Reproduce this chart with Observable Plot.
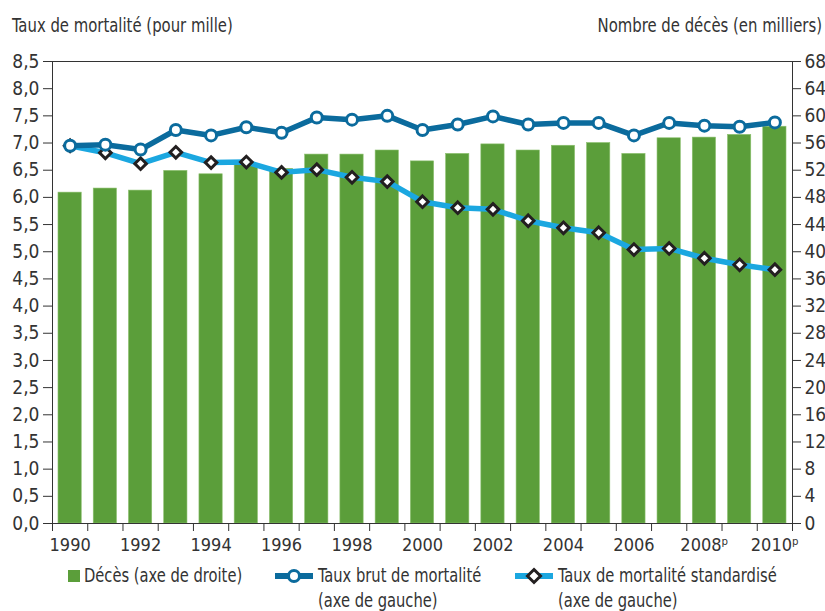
<!DOCTYPE html>
<html>
<head>
<meta charset="utf-8">
<script src="https://cdn.jsdelivr.net/npm/d3@7"></script>
<script src="https://cdn.jsdelivr.net/npm/@observablehq/plot@0.6"></script>
<style>
  html, body { margin: 0; padding: 0; background: #fff; }
  body { width: 825px; height: 611px; position: relative; overflow: hidden;
         font-family: "Liberation Sans Narrow", "DejaVu Sans Condensed", "Roboto Condensed", sans-serif; color: #333; }
  .hdr { position: absolute; top: 14px; font-size: 19px; color: #333; white-space: nowrap; }
  #chart { position: absolute; top: 40px; left: 0; }
  .leg { position: absolute; font-size: 19px; line-height: 25px; color: #333; white-space: nowrap; }
  .leg svg { position: absolute; }
  .sq { display: inline-block; transform: scaleX(0.86); transform-origin: left center; }
</style>
</head>
<body>
<div class="hdr" style="left:12px; transform: scaleX(0.87); transform-origin: left center;">Taux de mortalité (pour mille)</div>
<div class="hdr" style="right:3px; transform: scaleX(0.87); transform-origin: right center;">Nombre de décès (en milliers)</div>
<div id="chart"></div>
<div class="leg" style="left:68px; top:563px;"><svg width="14" height="14" style="left:0;top:6px"><rect x="0" y="1" width="12" height="12" fill="#5b9e3a"/></svg><div class="sq" style="margin-left:16px">Décès (axe de droite)</div></div>
<div class="leg" style="left:275px; top:563px;"><svg width="40" height="20" style="left:0;top:3px"><line x1="0" y1="10" x2="38" y2="10" stroke="#0b6b9d" stroke-width="6"/><circle cx="19" cy="10" r="5.5" fill="#fff" stroke="#0b6b9d" stroke-width="3"/></svg><div class="sq" style="margin-left:43px">Taux brut de mortalité<br>(axe de gauche)</div></div>
<div class="leg" style="left:515px; top:563px;"><svg width="40" height="20" style="left:0;top:3px"><line x1="0" y1="10" x2="38" y2="10" stroke="#1ba7e0" stroke-width="6"/><path d="M19,3.5 L25.5,10 L19,16.5 L12.5,10 Z" fill="#fff" stroke="#231f20" stroke-width="3"/></svg><div class="sq" style="margin-left:43px">Taux de mortalité standardisé<br>(axe de gauche)</div></div>
<script>
const years = d3.range(1990, 2011);
// Décès, en milliers (axe de droite)
const deces = [48.7, 49.3, 49.0, 51.9, 51.4, 52.8, 52.2, 54.3, 54.3, 54.9, 53.3, 54.4, 55.8, 54.9, 55.6, 56.0, 54.4, 56.7, 56.8, 57.2, 58.4];
// Taux brut de mortalité (pour mille)
const tauxBrut = [6.95, 6.97, 6.88, 7.24, 7.14, 7.29, 7.19, 7.47, 7.43, 7.50, 7.24, 7.34, 7.49, 7.34, 7.37, 7.37, 7.14, 7.37, 7.32, 7.30, 7.38];
// Taux de mortalité standardisé (pour mille)
const tauxStd = [6.95, 6.82, 6.62, 6.83, 6.64, 6.65, 6.46, 6.51, 6.37, 6.29, 5.92, 5.81, 5.78, 5.57, 5.44, 5.35, 5.04, 5.06, 4.88, 4.76, 4.67];
const leftTicks = d3.range(0, 8.51, 0.5);
const rightTicks = d3.range(0, 69, 4);
const xLabelYears = d3.range(1990, 2011, 2);
const provisional = [2008, 2010];

const ratio = 8; // 68 milliers <-> 8,5 pour mille
const data = years.map((y, i) => ({year: y, deces: deces[i], brut: tauxBrut[i], std: tauxStd[i]}));
const font = '"Liberation Sans Narrow", "DejaVu Sans Condensed", sans-serif';
const halfBar = 0.33;

const plot = Plot.plot({
  width: 825,
  height: 520,
  marginLeft: 52,
  marginRight: 33,
  marginTop: 21,
  marginBottom: 37,
  style: {fontFamily: font, fontSize: "19px", color: "#333", background: "transparent"},
  x: {type: "linear", domain: [1989.5, 2010.5]},
  y: {domain: [0, 8.5]},
  marks: [
    Plot.rectY(data, {x1: d => d.year - halfBar, x2: d => d.year + halfBar, y1: 0, y2: d => d.deces / ratio, fill: "#5b9e3a", stroke: "#8cc06e", strokeWidth: 0.6}),
    Plot.line(data, {x: "year", y: "std", stroke: "#1ba7e0", strokeWidth: 5.5}),
    Plot.dot(data, {x: "year", y: "std", symbol: "diamond2", r: 5.2, fill: "#fff", stroke: "#231f20", strokeWidth: 3}),
    Plot.line(data, {x: "year", y: "brut", stroke: "#0b6b9d", strokeWidth: 5.5}),
    Plot.dot(data, {x: "year", y: "brut", r: 5.5, fill: "#fff", stroke: "#0b6b9d", strokeWidth: 3}),
    Plot.frame({stroke: "#333", strokeWidth: 1}),
    Plot.axisY({ticks: leftTicks, anchor: "left", tickSize: 9, tickPadding: 4, tickFormat: d => d.toFixed(1).replace(".", ","), label: null, stroke: "#333", color: "#333"}),
    Plot.axisY({ticks: rightTicks.map(d => d / ratio), anchor: "right", tickSize: 8, tickPadding: 4, tickFormat: d => String(Math.round(d * ratio)), label: null, stroke: "#333", color: "#333"}),
    Plot.axisX({ticks: d3.range(1989.5, 2011, 1), anchor: "bottom", tickSize: 8, tickFormat: () => "", label: null, stroke: "#333"}),
    Plot.axisX({ticks: xLabelYears, anchor: "bottom", tickSize: 0, tickPadding: 15, fontSize: 18, tickFormat: d => provisional.includes(d) ? d + "ᵖ" : String(d), label: null, color: "#333"})
  ]
});
document.getElementById("chart").appendChild(plot);
</script>
</body>
</html>
